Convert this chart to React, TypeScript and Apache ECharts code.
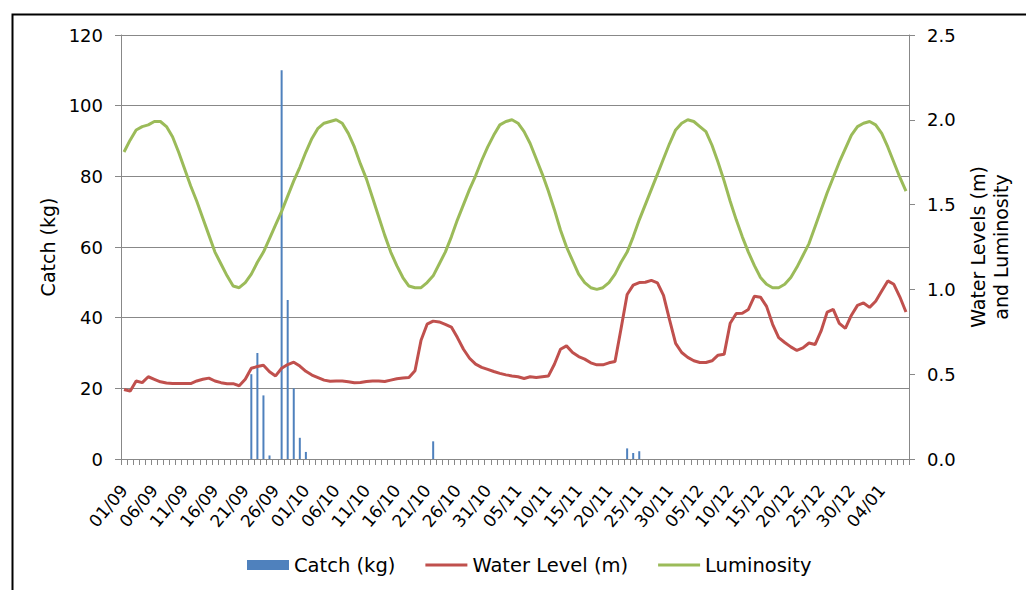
import React, { useEffect, useRef } from "react";
import * as echarts from "echarts";

// Daily categories, 01/09 to 08/01
const days: string[] = [
  "01/09", "02/09", "03/09", "04/09", "05/09", "06/09", "07/09", "08/09", "09/09", "10/09",
  "11/09", "12/09", "13/09", "14/09", "15/09", "16/09", "17/09", "18/09", "19/09", "20/09",
  "21/09", "22/09", "23/09", "24/09", "25/09", "26/09", "27/09", "28/09", "29/09", "30/09",
  "01/10", "02/10", "03/10", "04/10", "05/10", "06/10", "07/10", "08/10", "09/10", "10/10",
  "11/10", "12/10", "13/10", "14/10", "15/10", "16/10", "17/10", "18/10", "19/10", "20/10",
  "21/10", "22/10", "23/10", "24/10", "25/10", "26/10", "27/10", "28/10", "29/10", "30/10", "31/10",
  "01/11", "02/11", "03/11", "04/11", "05/11", "06/11", "07/11", "08/11", "09/11", "10/11",
  "11/11", "12/11", "13/11", "14/11", "15/11", "16/11", "17/11", "18/11", "19/11", "20/11",
  "21/11", "22/11", "23/11", "24/11", "25/11", "26/11", "27/11", "28/11", "29/11", "30/11",
  "01/12", "02/12", "03/12", "04/12", "05/12", "06/12", "07/12", "08/12", "09/12", "10/12",
  "11/12", "12/12", "13/12", "14/12", "15/12", "16/12", "17/12", "18/12", "19/12", "20/12",
  "21/12", "22/12", "23/12", "24/12", "25/12", "26/12", "27/12", "28/12", "29/12", "30/12", "31/12",
  "01/01", "02/01", "03/01", "04/01", "05/01", "06/01", "07/01", "08/01",
];

// Daily catch (kg)
const catchKg: number[] = [
  // September
  0, 0, 0, 0, 0, 0, 0, 0, 0, 0, 0, 0, 0, 0, 0, 0, 0, 0, 0, 0, 0,
  24, 30, 18, 1, 0, 110, 45, 20, 6,
  // October
  2, 0, 0, 0, 0, 0, 0, 0, 0, 0, 0, 0, 0, 0, 0, 0, 0, 0, 0, 0, 0,
  5, 0, 0, 0, 0, 0, 0, 0, 0, 0,
  // November
  0, 0, 0, 0, 0, 0, 0, 0, 0, 0, 0, 0, 0, 0, 0, 0, 0, 0, 0, 0, 0, 0,
  3, 1.7, 2.2, 0, 0, 0, 0, 0,
  // December
  0, 0, 0, 0, 0, 0, 0, 0, 0, 0, 0, 0, 0, 0, 0, 0, 0, 0, 0, 0,
  0, 0, 0, 0, 0, 0, 0, 0, 0, 0, 0,
  // January
  0, 0, 0, 0, 0, 0, 0, 0,
];

// Daily water level (m)
const waterLevel: number[] = [
  // September
  0.41, 0.40, 0.46, 0.45, 0.485, 0.47, 0.455, 0.448, 0.445, 0.445,
  0.445, 0.445, 0.46, 0.47, 0.477, 0.46, 0.45, 0.444, 0.444, 0.432,
  0.47, 0.535, 0.545, 0.553, 0.515, 0.49, 0.535, 0.557, 0.571, 0.548,
  // October
  0.517, 0.495, 0.48, 0.465, 0.458, 0.46, 0.46, 0.455, 0.45, 0.451,
  0.457, 0.46, 0.46, 0.457, 0.465, 0.473, 0.477, 0.48, 0.52, 0.70,
  0.795, 0.813, 0.808, 0.794, 0.778, 0.716, 0.647, 0.594, 0.559, 0.54,
  0.528,
  // November
  0.516, 0.505, 0.496, 0.49, 0.485, 0.475, 0.485, 0.481, 0.485, 0.489,
  0.559, 0.647, 0.667, 0.628, 0.604, 0.589, 0.567, 0.555, 0.555, 0.567,
  0.575, 0.77, 0.97, 1.025, 1.04, 1.042, 1.053, 1.039, 0.965, 0.82,
  // December
  0.682, 0.628, 0.599, 0.579, 0.569, 0.569, 0.579, 0.612, 0.617, 0.80,
  0.858, 0.859, 0.882, 0.96, 0.954, 0.90, 0.794, 0.716, 0.687, 0.661,
  0.64, 0.655, 0.684, 0.675, 0.755, 0.866, 0.882, 0.80, 0.77, 0.848,
  0.906,
  // January
  0.92, 0.894, 0.93, 0.99, 1.05, 1.03, 0.955, 0.867,
];

// Daily luminosity
const luminosity: number[] = [
  // September
  1.81, 1.88, 1.94, 1.96, 1.97, 1.99, 1.99, 1.96, 1.90, 1.81,
  1.71, 1.61, 1.52, 1.42, 1.32, 1.22, 1.15, 1.08, 1.02, 1.01,
  1.04, 1.09, 1.16, 1.22, 1.30, 1.38, 1.46, 1.55, 1.64, 1.72,
  // October
  1.81, 1.89, 1.95, 1.98, 1.99, 2.00, 1.98, 1.92, 1.84, 1.74,
  1.65, 1.54, 1.43, 1.32, 1.22, 1.14, 1.07, 1.02, 1.01, 1.01,
  1.04, 1.08, 1.15, 1.22, 1.31, 1.41, 1.50, 1.59, 1.67, 1.76,
  1.84,
  // November
  1.91, 1.97, 1.99, 2.00, 1.98, 1.93, 1.86, 1.77, 1.68, 1.58,
  1.47, 1.35, 1.25, 1.17, 1.09, 1.04, 1.01, 1.00, 1.01, 1.04,
  1.09, 1.16, 1.22, 1.31, 1.41, 1.50, 1.59, 1.68, 1.77, 1.86,
  // December
  1.94, 1.98, 2.00, 1.99, 1.96, 1.93, 1.85, 1.75, 1.64, 1.52,
  1.41, 1.31, 1.22, 1.14, 1.07, 1.03, 1.01, 1.01, 1.03, 1.07,
  1.13, 1.20, 1.27, 1.37, 1.47, 1.57, 1.66, 1.75, 1.83, 1.91,
  1.96,
  // January
  1.98, 1.99, 1.97, 1.92, 1.84, 1.75, 1.66, 1.58,
];

const FONT = "DejaVu Sans";
const GRAY = "#888888";

export default function App() {
  const ref = useRef<HTMLDivElement>(null);

  useEffect(() => {
    if (!ref.current) return;
    const chart = echarts.init(ref.current, null, { renderer: "svg" });

    chart.setOption({
      animation: false,
      backgroundColor: "#ffffff",
      textStyle: { fontFamily: FONT, color: "#000" },
      grid: { left: 121, right: 117, top: 35, bottom: 131, containLabel: false },
      legend: {
        left: 242,
        top: 550,
        itemWidth: 42,
        itemHeight: 10,
        itemGap: 30,
        textStyle: { fontFamily: FONT, fontSize: 19.5, color: "#000" },
        data: [
          { name: "Catch (kg)", icon: "rect" },
          { name: "Water Level (m)", icon: "path://M0,0H44V3H0Z" },
          { name: "Luminosity", icon: "path://M0,0H44V3H0Z" },
        ],
      },
      xAxis: {
        type: "category",
        data: days,
        boundaryGap: true,
        axisLine: { lineStyle: { color: GRAY, width: 1 } },
        axisTick: { show: true, interval: 0, length: 6, lineStyle: { color: GRAY } },
        axisLabel: {
          interval: 4,
          rotate: 50,
          margin: 28,
          fontSize: 17,
          fontFamily: FONT,
          color: "#000",
        },
        splitLine: { show: false },
      },
      yAxis: [
        {
          type: "value",
          min: 0,
          max: 120,
          interval: 20,
          position: "left",
          name: "Catch (kg)",
          nameLocation: "middle",
          nameGap: 57,
          nameTextStyle: { fontFamily: FONT, fontSize: 19, color: "#000" },
          axisLine: { show: true, lineStyle: { color: GRAY } },
          axisTick: { show: true, length: 6, lineStyle: { color: GRAY } },
          axisLabel: { margin: 18, fontSize: 18, fontFamily: FONT, color: "#000" },
          splitLine: { show: true, lineStyle: { color: GRAY, width: 1 } },
        },
        {
          type: "value",
          min: 0,
          max: 2.5,
          interval: 0.5,
          position: "right",
          name: "Water Levels (m)\nand Luminosity",
          nameLocation: "middle",
          nameGap: 56,
          nameTextStyle: { fontFamily: FONT, fontSize: 19, color: "#000", lineHeight: 23 },
          axisLine: { show: true, lineStyle: { color: GRAY } },
          axisTick: { show: true, length: 6, lineStyle: { color: GRAY } },
          axisLabel: {
            margin: 18,
            fontSize: 18,
            fontFamily: FONT,
            color: "#000",
            formatter: (v: number) => v.toFixed(1),
          },
          splitLine: { show: false },
        },
      ],
      series: [
        {
          name: "Luminosity",
          type: "line",
          yAxisIndex: 1,
          data: luminosity,
          color: "#9bbb59",
          symbol: "none",
          showSymbol: false,
          lineStyle: { width: 3, color: "#9bbb59" },
        },
        {
          name: "Catch (kg)",
          type: "bar",
          yAxisIndex: 0,
          data: catchKg,
          color: "#4f81bd",
          barWidth: 2,
          itemStyle: { color: "#4f81bd" },
        },
        {
          name: "Water Level (m)",
          type: "line",
          yAxisIndex: 1,
          data: waterLevel,
          color: "#c0504d",
          symbol: "none",
          showSymbol: false,
          lineStyle: { width: 3, color: "#c0504d" },
        },
      ],
      graphic: [
        {
          type: "rect",
          left: 10,
          top: 12,
          shape: { x: 0, y: 0, width: 1100, height: 700 },
          style: { fill: "none", stroke: "#000", lineWidth: 2 },
          silent: true,
        },
      ],
    });

    return () => {
      chart.dispose();
    };
  }, []);

  return (
    <div
      ref={ref}
      style={{ position: "fixed", left: 0, top: 0, width: 1026, height: 590, background: "#fff" }}
    />
  );
}
